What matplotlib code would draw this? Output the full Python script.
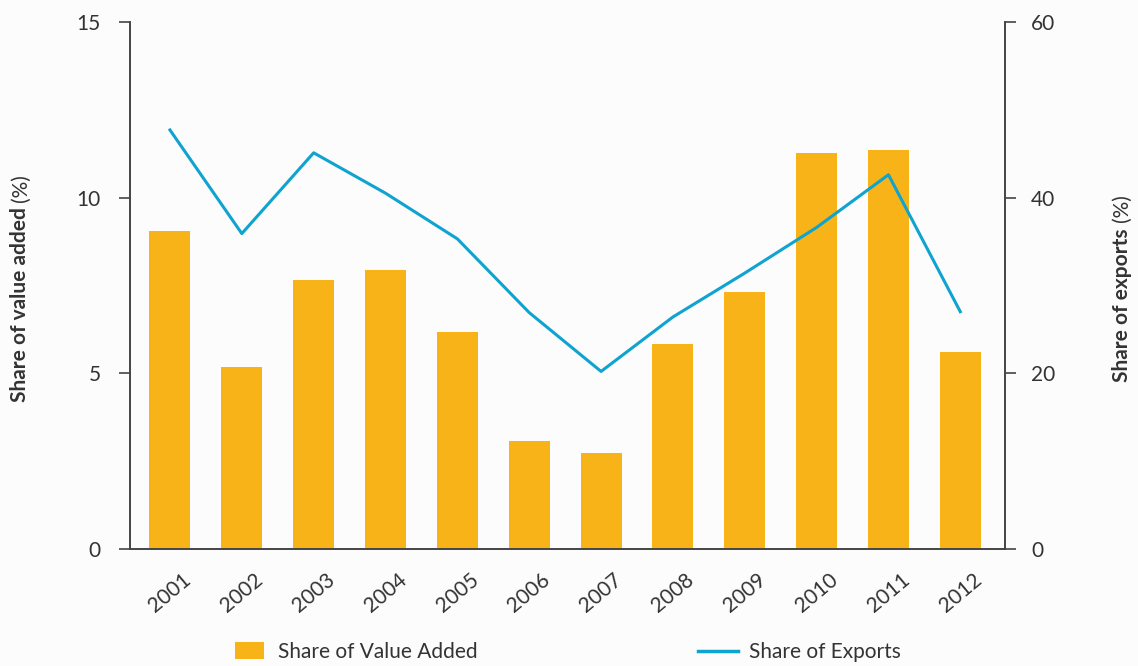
import matplotlib.pyplot as plt
from matplotlib.patches import Patch
from matplotlib.lines import Line2D

years = ['2001', '2002', '2003', '2004', '2005', '2006',
         '2007', '2008', '2009', '2010', '2011', '2012']
value_added = [9.05, 5.19, 7.66, 7.94, 6.18, 3.06, 2.72, 5.84, 7.32, 11.26, 11.35, 5.59]
exports = [47.7, 35.9, 45.1, 40.5, 35.3, 26.9, 20.2, 26.4, 31.4, 36.6, 42.6, 27.0]

bar_color = '#F8B319'
line_color = '#0FA3CF'
spine_color = '#444444'
text_color = '#333333'
bg = '#FCFCFC'

plt.rcParams['font.family'] = ['Lato', 'DejaVu Sans']

fig = plt.figure(figsize=(11.38, 6.66), dpi=100, facecolor=bg)
ax = fig.add_axes([0.114, 0.176, 0.769, 0.791])
ax.set_facecolor(bg)
ax2 = ax.twinx()

x = list(range(len(years)))
ax.bar(x, value_added, width=0.57, color=bar_color, zorder=2)
ax2.plot(x, exports, color=line_color, lw=2.2)

ax.set_xlim(-0.56, 11.62)
ax.set_ylim(0, 15)
ax2.set_ylim(0, 60)
ax.set_yticks([0, 5, 10, 15])
ax2.set_yticks([0, 20, 40, 60])

ax.set_xticks(x)
ax.set_xticklabels(years, rotation=40, ha='center', va='top',
                   fontsize=15, color=text_color)
ax.tick_params(axis='x', length=0, pad=15)
ax.tick_params(axis='y', length=8, width=1.2, color=spine_color, pad=13,
               labelsize=15, labelcolor=text_color)
ax2.tick_params(axis='y', length=8, width=1.2, color=spine_color, pad=11,
                labelsize=15, labelcolor=text_color)
for a in (ax, ax2):
    a.spines['top'].set_visible(False)
    for s in ('left', 'right', 'bottom'):
        a.spines[s].set_color(spine_color)
        a.spines[s].set_linewidth(1.2)


def split_label(xpos, ycenter, bold, regular):
    # bold title followed by regular "(%)", rotated, centred as a whole
    fig.canvas.draw()
    r = fig.canvas.get_renderer()
    t1 = fig.text(xpos, 0, bold, rotation=90, ha='center', va='bottom',
                  fontsize=15, fontweight='bold', color=text_color)
    t2 = fig.text(xpos, 0, regular, rotation=90, ha='center', va='bottom',
                  fontsize=15, color=text_color)
    h1 = t1.get_window_extent(r).height / fig.bbox.height
    h2 = t2.get_window_extent(r).height / fig.bbox.height
    gap = 6 / fig.bbox.height
    y0 = ycenter - (h1 + gap + h2) / 2
    t1.set_y(y0)
    t2.set_y(y0 + h1 + gap)


split_label(0.018, 1 - 288 / 666, 'Share of value added', '(%)')
split_label(0.986, 1 - 288 / 666, 'Share of exports', '(%)')

# two separate legend entries, spread apart like the original
leg1 = fig.legend(handles=[Patch(facecolor=bar_color, label='Share of Value Added')],
                  loc='center left', bbox_to_anchor=(235 / 1138, 0.021),
                  frameon=False, fontsize=15, borderpad=0, borderaxespad=0,
                  handlelength=1.4, handleheight=0.87, handletextpad=0.65)
leg2 = fig.legend(handles=[Line2D([0], [0], color=line_color, lw=2.5, label='Share of Exports')],
                  loc='center left', bbox_to_anchor=(698 / 1138, 0.021),
                  frameon=False, fontsize=15, borderpad=0, borderaxespad=0,
                  handlelength=1.92, handletextpad=0.53)
for leg in (leg1, leg2):
    for t in leg.get_texts():
        t.set_color(text_color)

fig.savefig('out.png', dpi=100, facecolor=bg)
